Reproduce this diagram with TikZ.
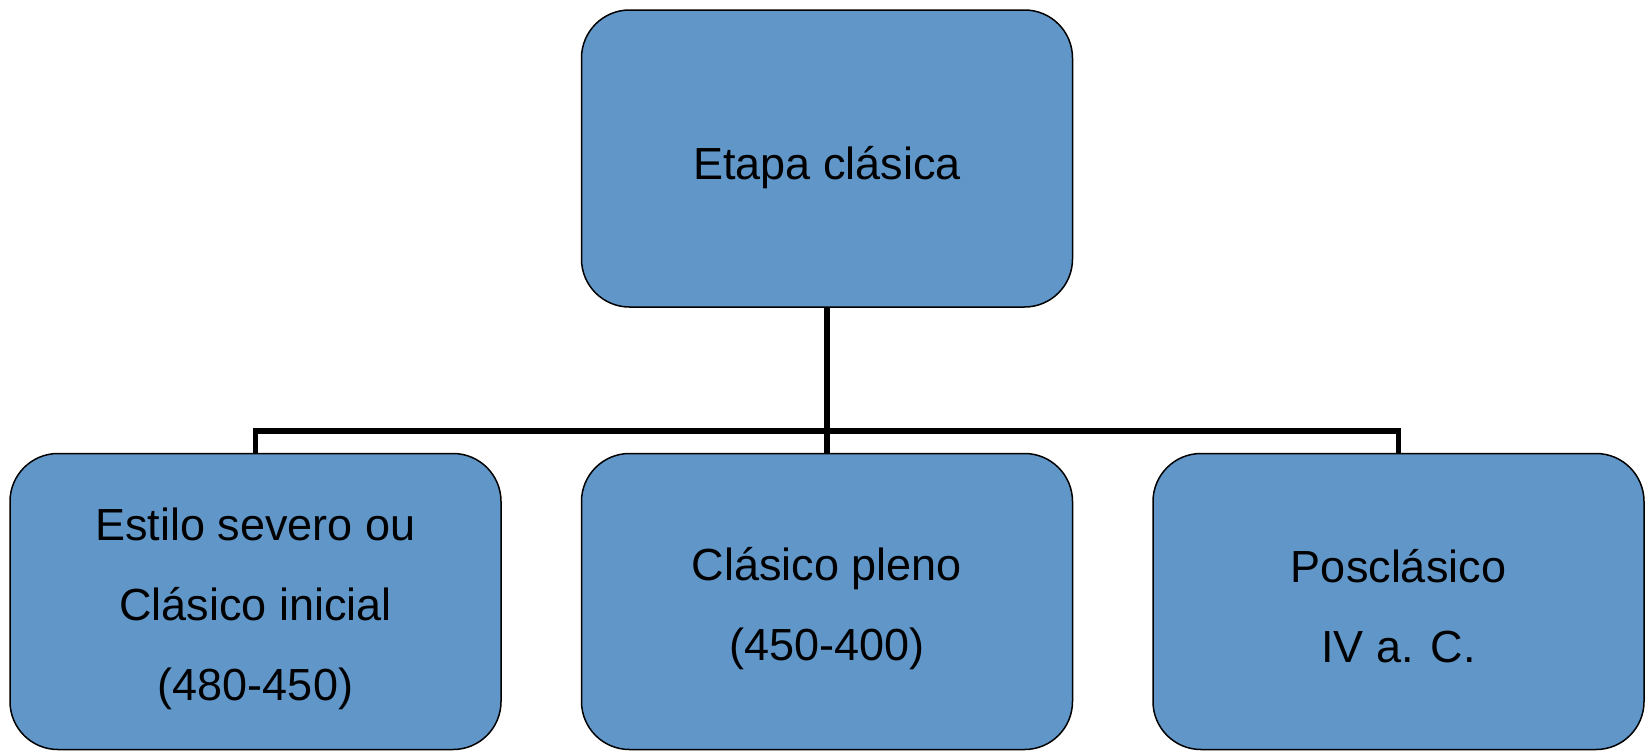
\documentclass[tikz,border=0pt]{standalone}
\usepackage{fontspec}
\setmainfont{Liberation Sans}
\definecolor{boxblue}{RGB}{96,150,200}
\begin{document}
\begin{tikzpicture}[x=1pt,y=-1pt,
  box/.style={draw=black, line width=1.5pt, fill=boxblue, rounded corners=48pt,
    minimum width=491pt, inner sep=0pt},
  lbl/.style={align=center, inner sep=0pt, font=\fontsize{45}{80}\selectfont},
  conn/.style={draw=black, line width=5.5pt}]
\useasboundingbox (0,0) rectangle (1648,750);
\node[box, minimum height=297pt] (top) at (827,158.5) {};
\node[box, minimum height=296pt] (left) at (255.5,601.5) {};
\node[box, minimum height=296pt] (mid) at (827,601.5) {};
\node[box, minimum height=296pt] (right) at (1398.5,601.5) {};
\node[lbl] (ttop) at ([yshift=-9pt]top.center) {Etapa clásica};
\node[lbl] (tleft) at ([yshift=-7pt]left.center) {Estilo severo ou\\Clásico inicial\\(480-450)};
\node[lbl] (tmid) at ([yshift=-7pt]mid.center) {Clásico pleno\\(450-400)};
\node[lbl] (tright) at ([yshift=-5pt]right.center) {Posclásico\\IV a. C.};
\coordinate (bar) at (827,431);
\draw[conn] (top.south) -- (mid.north);
\draw[conn] (left.north) -- (left.north |- bar) -- (right.north |- bar) -- (right.north);
\end{tikzpicture}
\end{document}
